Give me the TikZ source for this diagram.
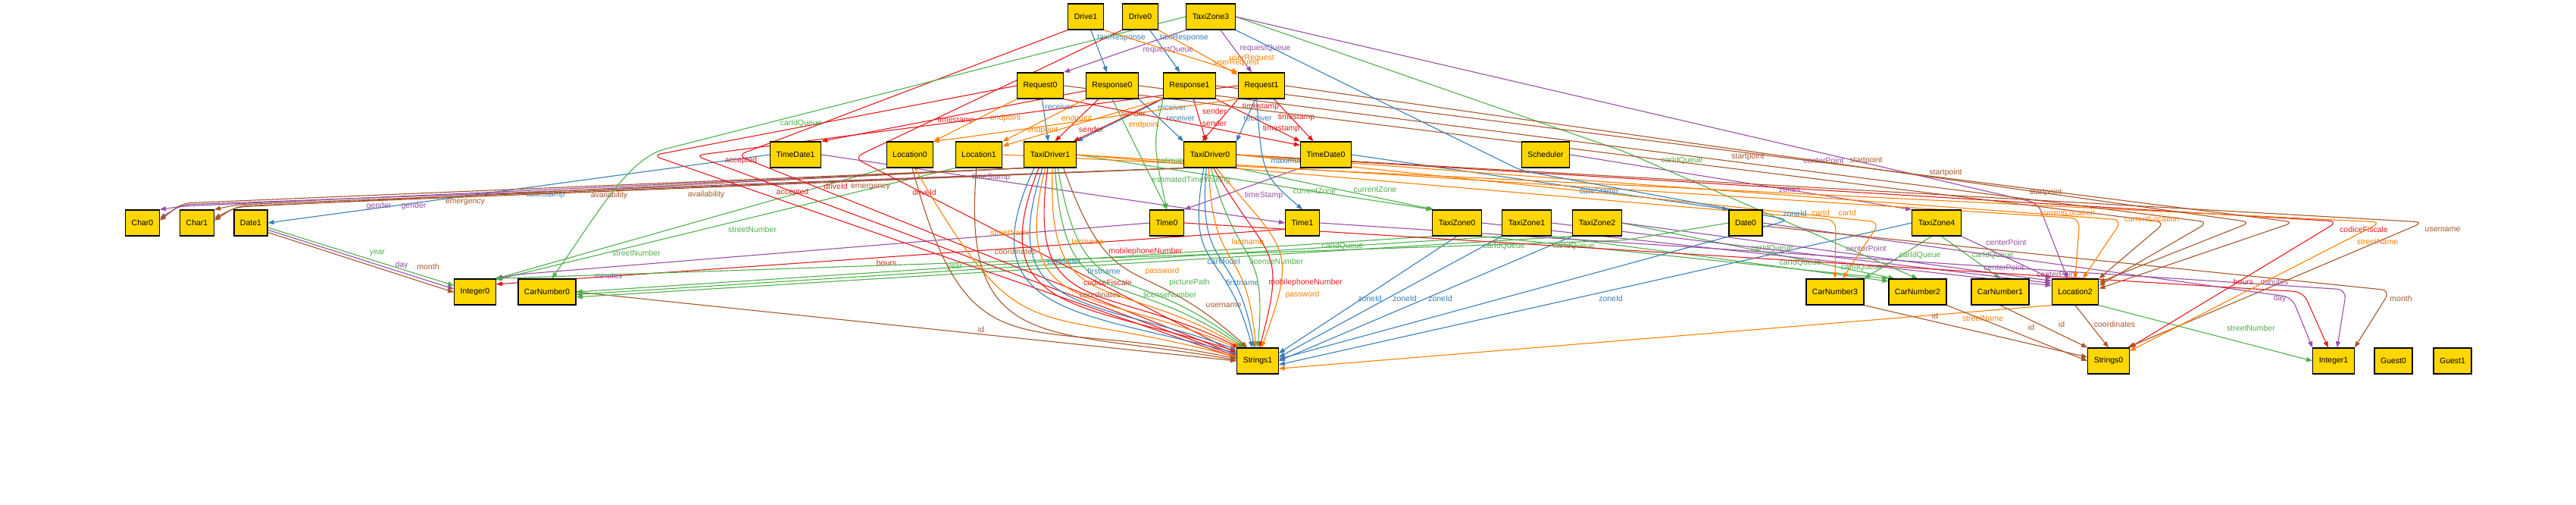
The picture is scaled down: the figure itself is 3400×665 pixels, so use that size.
\documentclass[tikz,border=0pt]{standalone}
\usepackage{fontspec}
\setmainfont{Liberation Sans}
\usetikzlibrary{positioning, arrows.meta}

\definecolor{ared}{RGB}{228,26,28}
\definecolor{ablue}{RGB}{55,126,184}
\definecolor{agreen}{RGB}{77,175,74}
\definecolor{apurple}{RGB}{152,78,163}
\definecolor{aorange}{RGB}{255,127,0}
\definecolor{abrown}{RGB}{166,86,40}
\definecolor{agold}{RGB}{255,215,0}

\newcommand{\alloyfont}{\fontsize{10.5}{12}\selectfont}
\tikzset{
  obj/.style={draw=black, line width=1.3pt, fill=agold, minimum height=34pt, inner xsep=8pt, inner ysep=0pt, font=\alloyfont},
  rel/.style={line width=1.1pt, -{Triangle[length=8pt, width=6pt]}},
  lbl/.style={font=\alloyfont, inner sep=1pt},
}
\pgfdeclarelayer{edges}
\pgfsetlayers{edges,main}

\begin{document}
\begin{tikzpicture}[x=1pt, y=-1pt]
  \useasboundingbox (0,0) rectangle (3400,665);
  % objects
  \foreach \n/\x/\y in {Drive1/1433/22, Drive0/1505/22, TaxiZone3/1598/22,
      Request0/1373/113, Response0/1468/113, Response1/1570/113, Request1/1665/113,
      TimeDate1/1050/204, Location0/1201/204, Location1/1292/204, TaxiDriver1/1386/204,
      TaxiDriver0/1597/204, TimeDate0/1750/204, Scheduler/2040/204,
      Char0/188/294, Char1/260/294, Date1/331/294, Time0/1540/294, Time1/1719/294,
      TaxiZone0/1923/294, TaxiZone1/2015/294, TaxiZone2/2108/294, Date0/2304/294, TaxiZone4/2556/294,
      Integer0/627/385, CarNumber0/722/385, CarNumber3/2422/385, CarNumber2/2531/385,
      CarNumber1/2640/385, Location2/2739/385,
      Strings1/1660/476, Strings0/2783/476, Integer1/3080/476, Guest0/3159/476, Guest1/3237/476}
    \node[obj] (\n) at (\x,\y) {\n};

  \begin{pgfonlayer}{edges}
  % straight relations
  \foreach \src/\tgt/\col/\lab/\lx/\ly in {
      Drive1/Response0/ablue/taxiResponse/1480/50,
      Drive0/Response1/ablue/taxiResponse/1563/50,
      TaxiZone3.south west/Request0.north east/apurple/requestQueue/1542/66,
      TaxiZone3/Request1/apurple/requestQueue/1670/64,
      Drive1.south east/Request1.north west/aorange/userRequest/1632/83,
      Drive0.south east/Request1.155/aorange/userRequest/1652/77,
      Request0/TaxiDriver1/ablue/receiver/1398/141,
      Response1.south west/TaxiDriver1.north east/ablue/receiver/1547/142,
      Response0.south east/TaxiDriver0.north west/ablue/receiver/1558/156,
      Request1/TaxiDriver0.north east/ablue/receiver/1660/156,
      Response0/TaxiDriver1.70/ared/sender/1440/171,
      Response1/TaxiDriver1.30/ared/sender/1496/150,
      Response1/TaxiDriver0/ared/sender/1603/147,
      Request1.south west/TaxiDriver0.120/ared/sender/1603/163,
      Response0/TimeDate1.north east/ared/timestamp/1262/159,
      Response1/TimeDate0.north west/ared/timestamp/1664/141,
      Request1/TimeDate0/ared/timestamp/1711/155,
      Request0.south east/TimeDate0.160/ared/timestamp/1691/170,
      Request0.south west/Location0.north east/aorange/endpoint/1327/156,
      Response0.south west/Location1.north east/aorange/endpoint/1376/172,
      Response1.south west/Location1.20/aorange/endpoint/1510/165,
      TaxiDriver1.east/TaxiZone0.north west/agreen/currentZone/1735/252,
      TaxiDriver0.south east/TaxiZone0.150/agreen/currentZone/1815/250,
      TimeDate1.east/Time1.west/apurple/timeStamp/1308/234,
      TimeDate0.south west/Time0.north east/apurple/timeStamp/1668/258,
      TimeDate0.east/Date0.north west/ablue/dateStamp/2110/253,
      Scheduler.east/TaxiZone4.north west/apurple/zones/2362/251,
      TimeDate1.west/Date1.east/ablue/dateStamp/720/257,
      Response0.south/Time0.north/agreen/estimatedTimeWaiting/1572/238,
      Date1.-15/Integer0.163/agreen/year/498/334,
      Date1.-22/Integer0.172/apurple/day/530/350,
      Date1.-29/Integer0.181/abrown/month/565/352,
      Location0.south west/Integer0.north east/agreen/streetNumber/840/334,
      Location1.south west/Integer0.30/agreen/streetNumber/993/303,
      Time1.200/Integer0.20/ared/hours/1170/347,
      CarNumber0.east/Strings1.west/abrown/id/1295/435,
      TaxiZone0.south west/CarNumber0.east/agreen/carIdQueue/1772/325,
      TaxiZone1.south west/CarNumber0.-5/agreen/carIdQueue/1985/325,
      TaxiZone2.south west/CarNumber0.-10/agreen/carIdQueue/2077/325,
      TaxiZone0.south/Strings1.20/ablue/zoneId/1808/394,
      TaxiZone1.south west/Strings1.10/ablue/zoneId/1854/394,
      TaxiZone2.south west/Strings1.0/ablue/zoneId/1901/394,
      TaxiZone4.west/Strings1.-10/ablue/zoneId/2126/394,
      Location2.south west/Strings1.-20/aorange/streetName/2617/420,
      CarNumber3.south east/Strings0.170/abrown/id/2554/417,
      CarNumber2.south east/Strings0.west/abrown/id/2681/432,
      CarNumber1.south/Strings0.north west/abrown/id/2721/428,
      Location2.south/Strings0.north/abrown/coordinates/2791/428,
      Location2.south east/Integer1.west/agreen/streetNumber/2971/433,
      TaxiZone2.east/CarNumber2.150/agreen/carIdQueue/2339/328,
      TaxiZone0.south east/CarNumber2.north west/agreen/carIdQueue/2376/347,
      TaxiZone1.south east/CarNumber2.160/agreen/carIdQueue/2457/353,
      TaxiZone4.250/CarNumber3.north east/agreen/carIdQueue/2534/337,
      TaxiZone4.290/CarNumber1.north/agreen/carIdQueue/2630/337,
      TaxiZone2.east/Location2.155/apurple/centerPoint/2463/328,
      TaxiZone0.east/Location2.165/apurple/centerPoint/2645/353,
      TaxiZone1.east/Location2.160/apurple/centerPoint/2715/362,
      TaxiZone4.south east/Location2.north west/apurple/centerPoint/2648/320}
    \draw[rel, color=\col] (\src) -- (\tgt) node[lbl] at (\lx,\ly) {\lab};

  % relations with one bend
  \foreach \src/\mx/\my/\tgt/\col/\lab/\lx/\ly in {
      Time0.west/683/362/Integer0.north east/apurple/minutes/803/364,
      Date0.west/2143/317/Integer0.35/agreen/year/1260/353,
      Request1.south west/1267/182/Location0.30/aorange/endpoint/1421/157,
      TaxiZone3.east/2144/200/CarNumber2.north/agreen/carIdQueue/2220/212,
      TaxiZone3.east/2690/268/Location2.120/apurple/centerPoint/2407/212,
      Time0.east/3040/385/Integer1.112/ared/hours/2961/372,
      Time1.east/3097/382/Integer1.75/apurple/minutes/3002/372,
      Date0.east/3025/392/Integer1.north west/apurple/day/3009/394,
      Date0.-10/3155/383/Integer1.north east/abrown/month/3169/394,
      TaxiDriver0.east/3086/292/Strings0.north east/ared/codiceFiscale/3120/303,
      TaxiDriver0.east/3199/293/Strings0.35/abrown/username/3224/303,
      Location1.east/3143/293/Strings0.25/aorange/streetName/3138/319,
      Request0.east/2858/293/Location2.north east/abrown/startpoint/2307/207,
      Response0.east/2915/293/Location2.15/abrown/startpoint/2463/212,
      Request1.east/2971/293/Location2.22/abrown/startpoint/2568/228,
      Response1.east/3028/293/Location2.8/abrown/startpoint/2700/254,
      TaxiDriver1.east/2745/288/Location2.north/aorange/currentLocation/2729/281,
      TaxiDriver0.east/2801/290/Location2.60/aorange/currentLocation/2840/289,
      TaxiDriver1.east/2423/290/CarNumber3.north/aorange/carId/2403/281,
      TaxiDriver0.east/2481/293/CarNumber3.60/aorange/carId/2438/281,
      TaxiDriver1.south west/240/272/Char0.north east/apurple/gender/500/272,
      TaxiDriver0.south west/240/270/Char0.15/apurple/gender/546/272,
      TaxiDriver1.south west/240/268/Char0.8/abrown/availability/804/258,
      TaxiDriver0.south west/312/270/Char1.north east/abrown/availability/932/257,
      TaxiDriver1.south west/312/273/Char1.15/abrown/emergency/614/267,
      TaxiDriver0.south west/312/272/Char1.8/abrown/emergency/1149/247,
      Request0.west/861/205/Strings1.172/ared/accepted/978/212,
      Request1.west/917/205/Strings1.168/ared/accepted/1046/254,
      Drive1.south west/973/205/Strings1.164/ared/driveId/1103/246,
      Drive0.south west/1127/208/Strings1.160/ared/driveId/1220/254}
    \draw[rel, color=\col, rounded corners=12pt] (\src) -- (\mx,\my) -- (\tgt) node[lbl] at (\lx,\ly) {\lab};

  % fans into Strings1
  \foreach \src/\tgt/\col/\lab/\lx/\ly/\ao/\ain in {
      TaxiDriver1.-140/Strings1.160/ablue/carModel/1404/345/-115/165,
      TaxiDriver1.-130/Strings1.156/ared/codiceFiscale/1462/373/-112/162,
      TaxiDriver1.-120/Strings1.152/ablue/firstname/1457/358/-108/160,
      TaxiDriver1.-110/Strings1.148/aorange/lastname/1436/319/-104/157,
      TaxiDriver1.-100/Strings1.144/ared/mobilephoneNumber/1512/332/-98/154,
      TaxiDriver1.-80/Strings1.140/aorange/password/1534/358/-92/150,
      TaxiDriver1.-70/Strings1.136/agreen/licenseNumber/1544/389/-86/146,
      TaxiDriver1.-60/Strings1.132/agreen/picturePath/1570/373/-80/142,
      TaxiDriver1.-45/Strings1.128/abrown/username/1615/403/-70/138,
      TaxiDriver0.-115/Strings1.112/ablue/carModel/1615/345/-100/105,
      TaxiDriver0.-105/Strings1.104/ablue/firstname/1640/373/-95/100,
      TaxiDriver0.-95/Strings1.98/aorange/lastname/1647/319/-88/95,
      TaxiDriver0.-85/Strings1.90/agreen/licenseNumber/1685/345/-75/85,
      TaxiDriver0.-75/Strings1.82/ared/mobilephoneNumber/1723/373/-60/75,
      TaxiDriver0.-65/Strings1.74/aorange/password/1719/389/-50/70,
      Location0.-70/Strings1.170/aorange/streetName/1334/307/-60/165,
      Location0.-80/Strings1.174/abrown/coordinates/1452/389/-75/168,
      Location1.-100/Strings1.178/abrown/coordinates/1340/332/-95/170}
    \draw[rel, color=\col] (\src) to[out=\ao, in=\ain, looseness=1.5] (\tgt) node[lbl] at (\lx,\ly) {\lab};

  % long ones
  \draw[rel, agreen] (TaxiZone3.west) -- (880,196) .. controls (830,207) and (790,280) .. (CarNumber0.70)
    node[lbl] at (1057,163) {carIdQueue};
  \draw[rel, ablue, rounded corners=12pt] (TaxiZone3.south east) -- (2008,225) -- (2362,290) -- (Strings1.5)
    node[lbl] at (2369,282) {zoneId};
  \draw[rel, agreen] (Response1.south west) .. controls (1522,190) .. (Time0.north)
    node[lbl, anchor=west] at (1525,212) {estimate};
  \draw[rel, ablue] (Request1.250) .. controls (1666,230) .. (Time1.north)
    node[lbl, anchor=west] at (1676,212) {maximum};
  \end{pgfonlayer}
\end{tikzpicture}
\end{document}
